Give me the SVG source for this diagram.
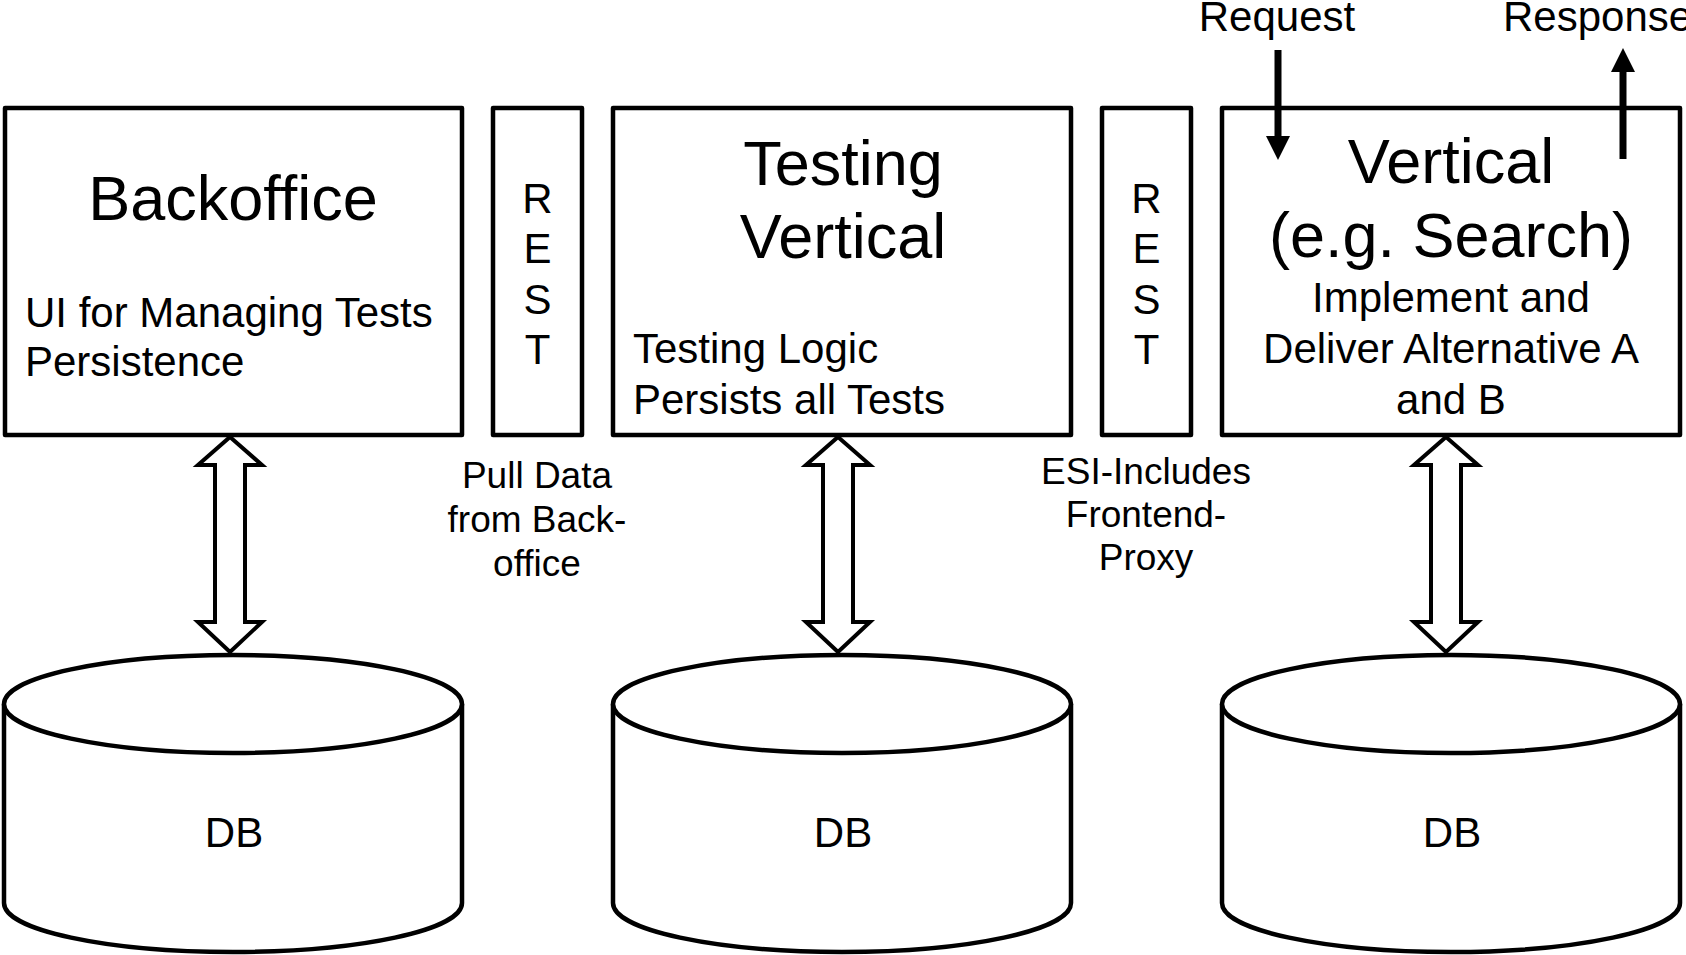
<svg xmlns="http://www.w3.org/2000/svg" width="1686" height="955" viewBox="0 0 1686 955">
<style>
.box{fill:#fff;stroke:#000;stroke-width:4.5;stroke-linejoin:round}
.cyl{fill:#fff;stroke:#000;stroke-width:4.5}
.dbl{fill:#fff;stroke:#000;stroke-width:4;stroke-linejoin:miter}
.t{font-family:"Liberation Sans",Arial,sans-serif;fill:#000}
.big{font-size:63px;text-anchor:middle}
.mid{font-size:42px}
.c{text-anchor:middle}
.lbl{font-size:37px;text-anchor:middle}
.arr{stroke:#000;stroke-width:7;fill:none}
</style>
<rect width="1686" height="955" fill="#fff"/>

<g id="backoffice">
<rect class="box" x="5" y="108" width="457" height="327"/>
<text class="t big" x="233" y="220">Backoffice</text>
<text class="t mid" x="25" y="327">UI for Managing Tests</text>
<text class="t mid" x="25" y="376">Persistence</text>
</g>

<g id="rest1">
<rect class="box" x="493" y="108" width="89" height="327"/>
<text class="t mid c" x="537.5" y="213">R</text>
<text class="t mid c" x="537.5" y="263">E</text>
<text class="t mid c" x="537.5" y="314">S</text>
<text class="t mid c" x="537.5" y="364">T</text>
</g>

<g id="testing">
<rect class="box" x="613" y="108" width="458" height="327"/>
<text class="t big" x="843" y="185">Testing</text>
<text class="t big" x="843" y="258">Vertical</text>
<text class="t mid" x="633" y="363">Testing Logic</text>
<text class="t mid" x="633" y="414">Persists all Tests</text>
</g>

<g id="rest2">
<rect class="box" x="1102" y="108" width="89" height="327"/>
<text class="t mid c" x="1146.5" y="213">R</text>
<text class="t mid c" x="1146.5" y="263">E</text>
<text class="t mid c" x="1146.5" y="314">S</text>
<text class="t mid c" x="1146.5" y="364">T</text>
</g>

<g id="vertical">
<rect class="box" x="1222" y="108" width="458" height="327"/>
<text class="t big" x="1451" y="183">Vertical</text>
<text class="t big" x="1451" y="257">(e.g. Search)</text>
<text class="t mid c" x="1451" y="312">Implement and</text>
<text class="t mid c" x="1451" y="363">Deliver Alternative A</text>
<text class="t mid c" x="1451" y="414">and B</text>
</g>

<g id="label-pull">
<text class="t lbl" x="537" y="488">Pull Data</text>
<text class="t lbl" x="537" y="532">from Back-</text>
<text class="t lbl" x="537" y="576">office</text>
</g>

<g id="label-esi">
<text class="t lbl" x="1146" y="484">ESI-Includes</text>
<text class="t lbl" x="1146" y="527">Frontend-</text>
<text class="t lbl" x="1146" y="570">Proxy</text>
</g>

<g id="label-request">
<text class="t mid c" x="1277" y="31">Request</text>
</g>
<g id="label-response">
<text class="t mid" x="1503" y="31">Response</text>
</g>

<g id="db1">
<path class="cyl" d="M4,704 L4,903 A229,49 0 0 0 462,903 L462,704"/>
<ellipse class="cyl" cx="233" cy="704" rx="229" ry="49"/>
<text class="t mid c" x="234" y="847">DB</text>
</g>
<g id="db2">
<path class="cyl" d="M613,704 L613,903 A229,49 0 0 0 1071,903 L1071,704"/>
<ellipse class="cyl" cx="842" cy="704" rx="229" ry="49"/>
<text class="t mid c" x="843" y="847">DB</text>
</g>
<g id="db3">
<path class="cyl" d="M1222,704 L1222,903 A229,49 0 0 0 1680,903 L1680,704"/>
<ellipse class="cyl" cx="1451" cy="704" rx="229" ry="49"/>
<text class="t mid c" x="1452" y="847">DB</text>
</g>

<g id="connectors">
<polygon class="dbl" points="230,437 262,465 245,465 245,622 262,622 230,652 198,622 215,622 215,465 198,465"/>
<polygon class="dbl" points="838,437 870,465 853,465 853,622 870,622 838,652 806,622 823,622 823,465 806,465"/>
<polygon class="dbl" points="1446,437 1478,465 1461,465 1461,622 1478,622 1446,652 1414,622 1431,622 1431,465 1414,465"/>
<line class="arr" x1="1278" y1="50" x2="1278" y2="140"/>
<polygon points="1266,136 1290,136 1278,160" fill="#000"/>
<line class="arr" x1="1623" y1="159" x2="1623" y2="68"/>
<polygon points="1611,72 1635,72 1623,48" fill="#000"/>
</g>
</svg>
